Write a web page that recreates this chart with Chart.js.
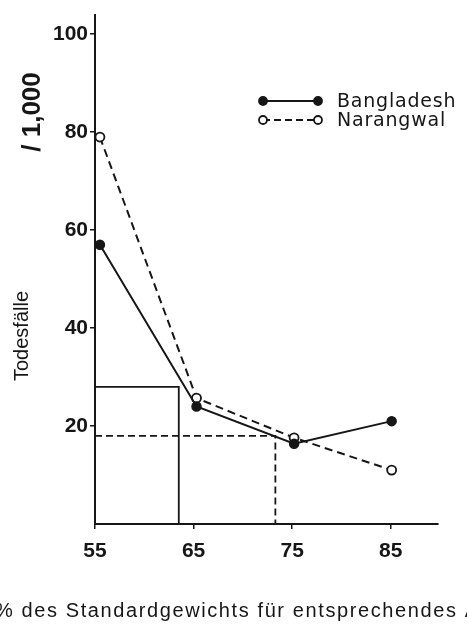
<!DOCTYPE html>
<html>
<head>
<meta charset="utf-8">
<script src="https://cdn.jsdelivr.net/npm/chart.js@4/dist/chart.umd.min.js"></script>
<style>
  html, body { margin: 0; padding: 0; background: #fff; }
  #wrap { width: 467px; height: 628px; }
</style>
</head>
<body>
<div id="wrap"><canvas id="c"></canvas></div>
<script>
// values
const weightPct = [55.5, 65.3, 75.2, 85.1];
const bangladesh = [57, 24, 16.4, 21];
const narangwal = [79, 25.7, 17.6, 11];
const xTicks = [55, 65, 75, 85];
const yTicks = [20, 40, 60, 80, 100];

// guide lines drawn on the plot
const solidGuideX = [55, 63.5, 63.5];
const solidGuideY = [28, 28, 0];
const dashGuideX = [55, 73.3, 73.3];
const dashGuideY = [18, 18, 0];

const zip = (xs, ys) => xs.map((x, i) => ({ x: x, y: ys[i] }));

const ink = '#161616';
const tickFont = { family: 'Liberation Sans', size: 21, weight: 'bold' };

// extra texts and the hand-drawn legend
const textPlugin = {
  id: 'texts',
  afterDraw(chart) {
    const ctx = chart.ctx;
    ctx.save();
    ctx.fillStyle = ink;

    // y titles
    ctx.save();
    ctx.translate(33, 112);
    ctx.rotate(-Math.PI / 2);
    ctx.textAlign = 'center';
    ctx.textBaseline = 'middle';
    ctx.font = 'bold 26px "Liberation Sans"';
    ctx.fillText('/ 1,000', 0, 0);
    ctx.restore();

    ctx.save();
    ctx.translate(22, 336);
    ctx.rotate(-Math.PI / 2);
    ctx.textAlign = 'center';
    ctx.textBaseline = 'middle';
    ctx.font = '20px "Liberation Sans"';
    ctx.fillText('Todesfälle', 0, 0);
    ctx.restore();

    // x title (runs off the right edge like the original)
    ctx.textAlign = 'left';
    ctx.textBaseline = 'alphabetic';
    ctx.font = '20px "Liberation Sans"';
    ctx.letterSpacing = '1.6px';
    ctx.fillText('% des Standardgewichts für entsprechendes Alter', -5, 617);
    ctx.letterSpacing = '0px';

    // legend
    const rows = [
      { label: 'Bangladesh', y: 101, dash: [], fill: ink },
      { label: 'Narangwal', y: 120, dash: [7, 4], fill: '#fff' }
    ];
    rows.forEach(r => {
      ctx.strokeStyle = ink;
      ctx.lineWidth = 2;
      ctx.setLineDash(r.dash);
      ctx.beginPath();
      ctx.moveTo(263, r.y);
      ctx.lineTo(318, r.y);
      ctx.stroke();
      ctx.setLineDash([]);
      [263, 318].forEach(px => {
        ctx.beginPath();
        ctx.arc(px, r.y, 4, 0, Math.PI * 2);
        ctx.fillStyle = r.fill;
        ctx.fill();
        ctx.lineWidth = 1.8;
        ctx.stroke();
      });
      ctx.fillStyle = ink;
      ctx.font = '19px "DejaVu Sans"';
      ctx.letterSpacing = '0.8px';
      ctx.textBaseline = 'middle';
      ctx.fillText(r.label, 337, r.y + 1);
      ctx.letterSpacing = '0px';
    });
    ctx.restore();
  }
};

new Chart(document.getElementById('c'), {
  type: 'line',
  data: {
    datasets: [{
      label: 'Bangladesh',
      data: zip(weightPct, bangladesh),
      borderColor: ink,
      borderWidth: 2,
      pointRadius: 4.5,
      pointBackgroundColor: ink,
      pointBorderColor: ink,
      pointBorderWidth: 1.5,
      clip: false
    }, {
      label: 'Narangwal',
      data: zip(weightPct, narangwal),
      borderColor: ink,
      borderWidth: 2,
      borderDash: [8, 5],
      pointRadius: 4.5,
      pointBackgroundColor: '#fff',
      pointBorderColor: ink,
      pointBorderWidth: 1.8,
      clip: false
    }, {
      label: 'guide solid',
      data: zip(solidGuideX, solidGuideY),
      borderColor: ink,
      borderWidth: 1.8,
      pointRadius: 0
    }, {
      label: 'guide dashed',
      data: zip(dashGuideX, dashGuideY),
      borderColor: ink,
      borderWidth: 1.8,
      borderDash: [7, 4],
      pointRadius: 0
    }]
  },
  options: {
    responsive: true,
    maintainAspectRatio: false,
    animation: false,
    layout: { padding: { left: 0, top: 10, right: 29, bottom: 64 } },
    plugins: {
      legend: { display: false },
      tooltip: { enabled: false }
    },
    scales: {
      x: {
        type: 'linear',
        min: 55,
        max: 89.8,
        afterBuildTicks: s => { s.ticks = xTicks.map(v => ({ value: v })); },
        afterFit: s => { s.height = 40; },
        grid: { drawOnChartArea: false, drawTicks: true, tickLength: 5, color: ink, lineWidth: 1.5 },
        border: { color: ink, width: 2 },
        ticks: { color: ink, font: tickFont, padding: 10, maxRotation: 0, autoSkip: false }
      },
      y: {
        min: 0,
        max: 104,
        afterBuildTicks: s => { s.ticks = yTicks.map(v => ({ value: v })); },
        afterFit: s => { s.width = 95; },
        grid: { drawOnChartArea: false, drawTicks: true, tickLength: 5, color: ink, lineWidth: 1.5 },
        border: { color: ink, width: 2 },
        ticks: { color: ink, font: tickFont, padding: 2 }
      }
    }
  },
  plugins: [textPlugin]
});
</script>
</body>
</html>
